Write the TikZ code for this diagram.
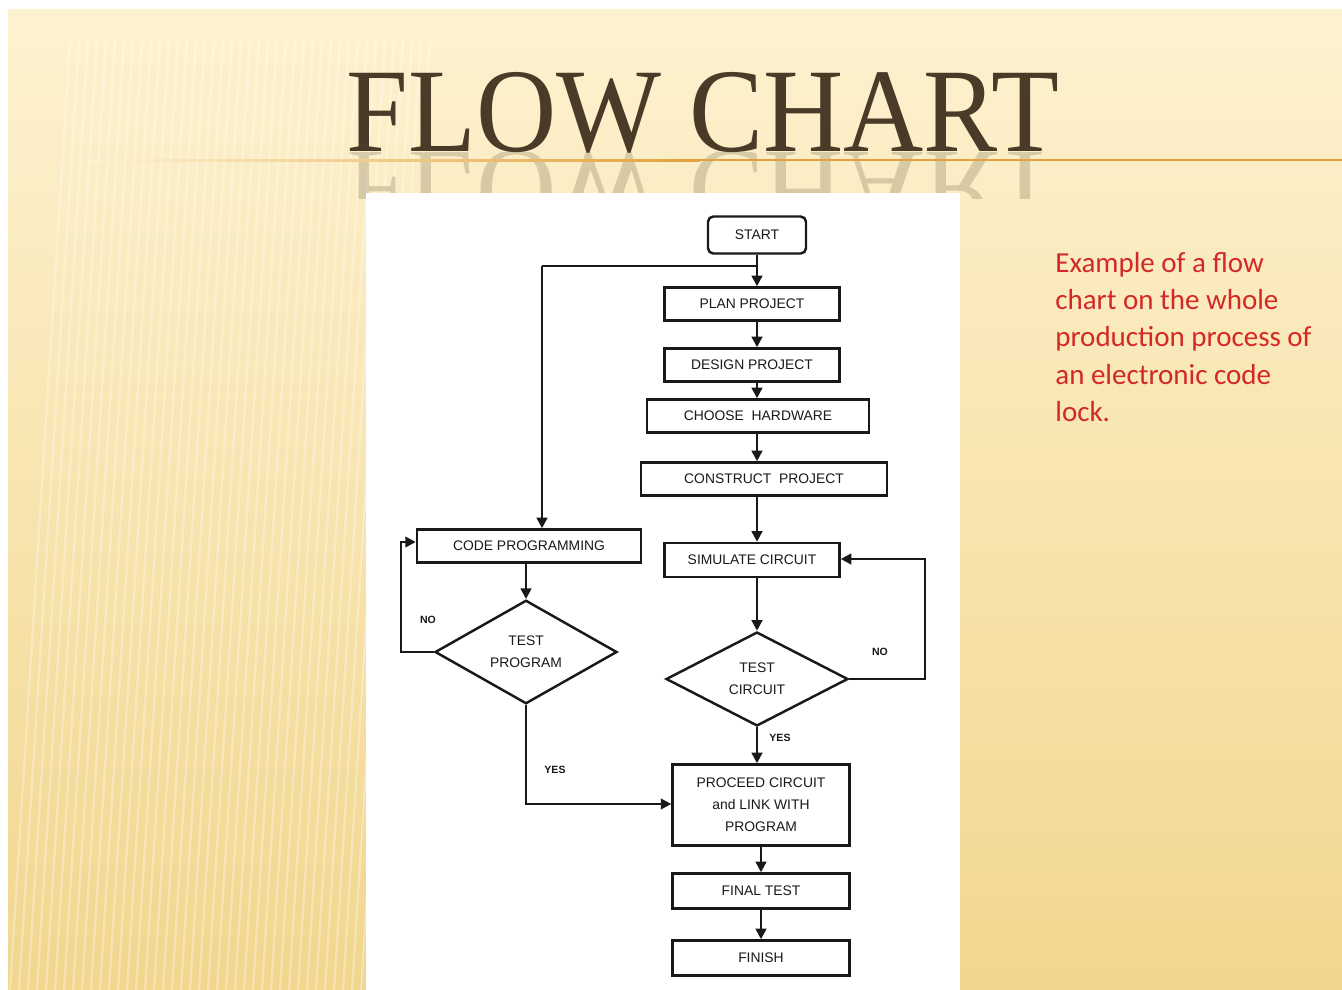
\documentclass[tikz,border=0pt]{standalone}
\usepackage{fontspec}
\setmainfont{Liberation Sans}
\newfontfamily\titlefont{Liberation Serif}
\newfontfamily\notefont{Carlito}
\usetikzlibrary{shapes.geometric,arrows.meta}

\definecolor{slidetop}{RGB}{253,242,208}
\definecolor{slidebottom}{RGB}{242,214,142}
\definecolor{titlebrown}{RGB}{74,58,40}
\definecolor{rulegold}{RGB}{228,160,60}
\definecolor{notered}{RGB}{212,40,40}
\definecolor{ink}{RGB}{25,25,25}

\tikzset{
  box/.style={draw=ink, line width=1.4pt, text=ink, font=\fontsize{7.9}{9.5}\selectfont, align=center, inner sep=0pt},
  decision/.style={box, diamond, minimum width=3.64cm, minimum height=1.88cm},
  flow/.style={draw=ink, line width=1.4pt, -{Triangle[length=6pt,width=6pt]}},
  answer/.style={text=ink, font=\bfseries\fontsize{6}{6}\selectfont}
}

\begin{document}
\begin{tikzpicture}[x=0.02cm,y=-0.02cm]
\useasboundingbox (0,0) rectangle (1342,990);
\fill[white] (0,0) rectangle (1342,990);
\shade[top color=slidetop, bottom color=slidebottom] (8,10) rectangle (1342,990);
\foreach \i in {0,...,40}
  \draw[white, opacity=0.3, line width=1.3pt] ({10+\i*9},990) -- ({70+\i*9},40);

% title and its reflection
\node[titlebrown, font=\titlefont\fontsize{68}{68}\selectfont, xscale=0.93, anchor=base] (title) at (703,152) {FLOW CHART};
\begin{scope}
\clip (300,152) rectangle (1100,198);
\node[titlebrown, opacity=0.2, font=\titlefont\fontsize{68}{68}\selectfont, xscale=0.93, yscale=-1, anchor=base] (mirror) at (703,152) {FLOW CHART};
\end{scope}
\shade[left color=slidetop, right color=rulegold] (90,159) rectangle (700,161);
\fill[rulegold] (700,159) rectangle (1342,161);

% paper
\fill[white] (366,193) rectangle (960,990);

% boxes
\node[box, rounded corners=3pt, minimum width=1.96cm, minimum height=0.74cm] (start) at (757,235) {START};
\node[box, minimum width=3.5cm, minimum height=0.66cm] (plan) at (752,304) {PLAN PROJECT};
\node[box, minimum width=3.5cm, minimum height=0.66cm] (design) at (752,365) {DESIGN PROJECT};
\node[box, minimum width=4.44cm, minimum height=0.66cm] (hardware) at (758,416) {CHOOSE\ \ HARDWARE};
\node[box, minimum width=4.92cm, minimum height=0.66cm] (construct) at (764,479) {CONSTRUCT\ \ PROJECT};
\node[box, minimum width=4.48cm, minimum height=0.66cm] (code) at (529,546) {CODE PROGRAMMING};
\node[box, minimum width=3.5cm, minimum height=0.68cm] (simulate) at (752,560) {SIMULATE CIRCUIT};
\node[decision] (testprog) at (526,652) {TEST\\[3pt]PROGRAM};
\node[decision] (testcirc) at (757,679) {TEST\\[3pt]CIRCUIT};
\node[box, minimum width=3.54cm, minimum height=1.62cm, font=\fontsize{7.9}{12.5}\selectfont] (proceed) at (761,805) {PROCEED CIRCUIT\\and LINK WITH\\PROGRAM};
\node[box, minimum width=3.54cm, minimum height=0.7cm] (final) at (761,891) {FINAL TEST};
\node[box, minimum width=3.54cm, minimum height=0.7cm] (finish) at (761,958) {FINISH};

% connectors
\coordinate (fork) at (757,266);
\coordinate (codein) at (542,266);
\draw[flow] (start.south -| fork) -- (plan.north -| fork);
\draw[draw=ink, line width=1.4pt] (fork) -- (codein);
\draw[flow] (codein) -- (code.north -| codein);
\draw[flow] (plan.south -| fork) -- (design.north -| fork);
\draw[flow] (design.south -| fork) -- (hardware.north -| fork);
\draw[flow] (hardware.south -| fork) -- (construct.north -| fork);
\draw[flow] (construct.south -| fork) -- (simulate.north -| fork);
\draw[flow] (simulate.south -| fork) -- (testcirc.north);
\draw[flow] (testcirc.east) -- (925,679) -- (925,559) -- (simulate.east |- 0,559);
\draw[flow] (testcirc.south) -- (proceed.north -| testcirc.south);
\draw[flow] (code.south -| testprog.north) -- (testprog.north);
\draw[flow] (testprog.west) -- (401,652) -- (401,542) -- (code.west |- 0,542);
\draw[flow] (testprog.south) -- (526,804) -- (proceed.west |- 0,804);
\draw[flow] (proceed) -- (final);
\draw[flow] (final) -- (finish);

% answers
\node[answer] (noprog) at (428,620) {NO};
\node[answer] (yesprog) at (555,770) {YES};
\node[answer] (nocirc) at (880,652) {NO};
\node[answer] (yescirc) at (780,738) {YES};

% note
\node[anchor=north west, align=left, text=notered, font=\notefont\fontsize{16.5}{21.2}\selectfont, inner sep=0pt] (note) at (1055,252)
  {Example of a flow\\chart on the whole\\production process of\\an electronic code\\lock.};
\end{tikzpicture}
\end{document}
